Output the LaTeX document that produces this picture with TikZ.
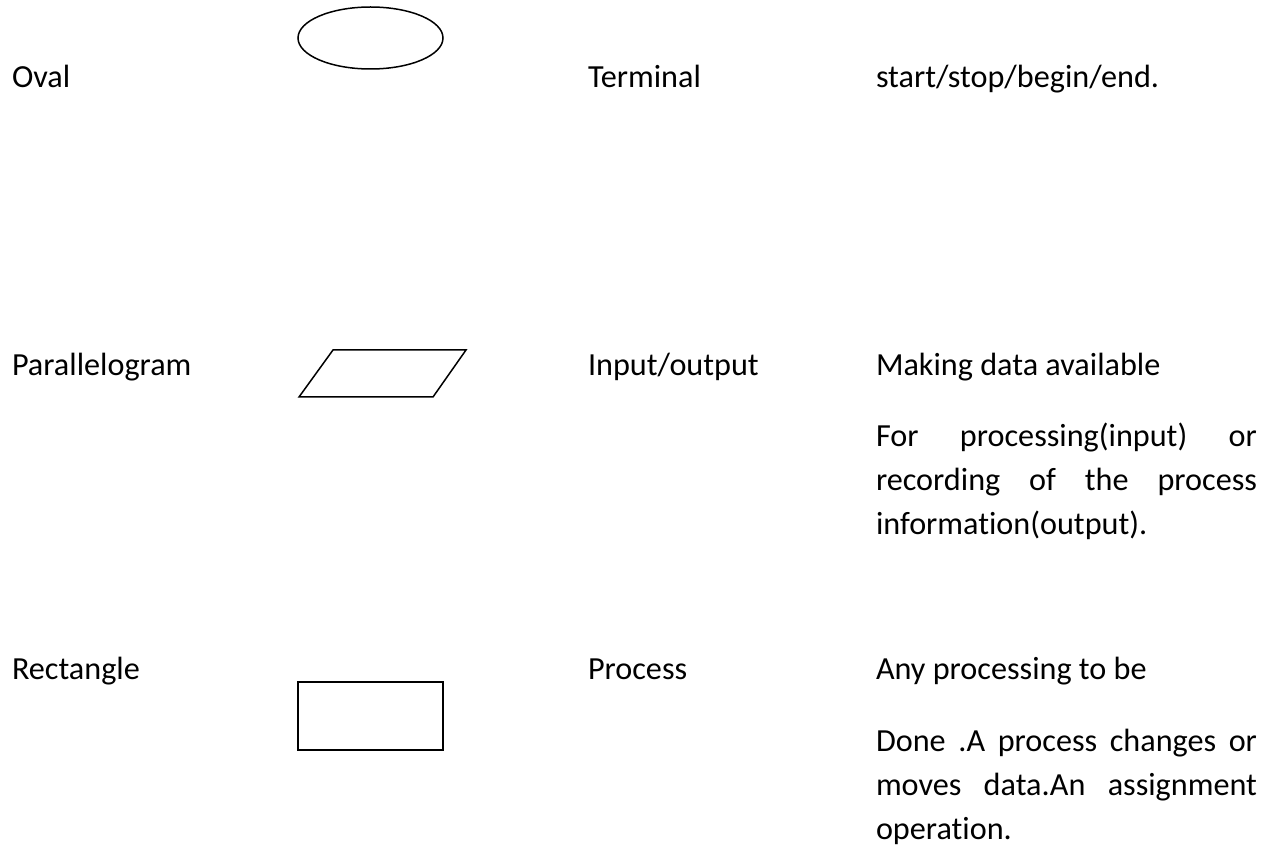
\documentclass[tikz,border=0pt]{standalone}
\usepackage{fontspec}
\setmainfont[Ligatures=NoCommon]{Carlito}
\usetikzlibrary{shapes.geometric}
\hyphenpenalty=10000
\exhyphenpenalty=10000
\tolerance=9999

\begin{document}
\begin{tikzpicture}[x=0.5pt,y=-0.5pt]
  \tikzset{ShapeStyle/.style = {
    draw          = black,
    line width    = 0.75pt,
    fill          = white,
    inner sep     = 0pt,
    outer sep     = 0pt
    }
  }
  \tikzset{LabelStyle/.style = {
    anchor        = base west,
    inner sep     = 0pt,
    outer sep     = 0pt,
    text          = black,
    font          = \fontsize{16.1}{22}\selectfont
    }
  }
  \tikzset{ParaStyle/.style = {
    LabelStyle,
    text width    = 190.5pt,
    align         = justify
    }
  }

  \useasboundingbox (0,0) rectangle (1270,845);

  % symbols
  \node[ShapeStyle, ellipse, minimum width=72.5pt, minimum height=31pt](Oval) at (370.5, 38) {};
  \draw[ShapeStyle] (299, 397) -- (333, 350) -- (466, 350) -- (433, 397) -- cycle;
  \node[ShapeStyle, rectangle, minimum width=72.5pt, minimum height=34pt](Rect) at (370.5, 716) {};

  % names
  \node[LabelStyle](N1) at (12, 88) {Oval};
  \node[LabelStyle](N2) at (12, 376) {Parallelogram};
  \node[LabelStyle](N3) at (12, 679) {Rectangle};

  % meanings
  \node[LabelStyle](M1) at (588, 88) {Terminal};
  \node[LabelStyle](M2) at (588, 376) {Input/output};
  \node[LabelStyle](M3) at (588, 679) {Process};

  % descriptions
  \node[LabelStyle](D1) at (876, 88) {start/stop/begin/end.};
  \node[LabelStyle](D2) at (876, 376) {Making data available};
  \node[ParaStyle](D3) at (876, 446) {For processing(input) or recording of the process information(output).};
  \node[LabelStyle](D4) at (876, 679) {Any processing to be};
  \node[ParaStyle](D5) at (876, 751) {Done .A process changes or moves data.An assignment operation.};

\end{tikzpicture}
\end{document}
